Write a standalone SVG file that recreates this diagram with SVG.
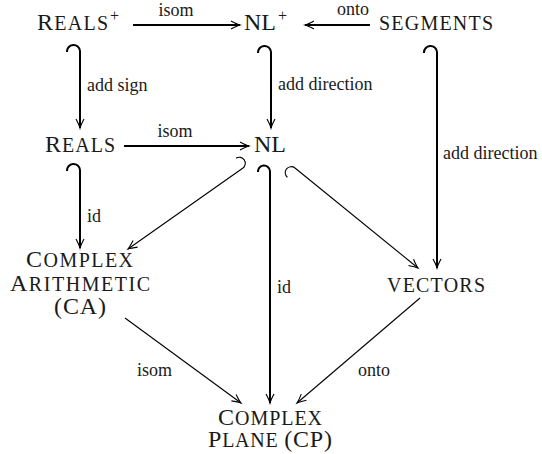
<svg xmlns="http://www.w3.org/2000/svg" width="542" height="454" viewBox="0 0 542 454" font-family="Liberation Serif, Times New Roman, serif">
<style>
  .n { fill: #1a1a1a; }
  .big { font-size: 24px; }
  .sc { font-size: 20px; }
  .sup { font-size: 16px; }
  .lbl { font-size: 18px; fill: #1a1a1a; }
  .thick { fill: none; stroke: #000; stroke-width: 2; }
  .thin { fill: none; stroke: #000; stroke-width: 1.1; }
</style>
<defs>
  <marker id="ah" markerWidth="12" markerHeight="10" viewBox="-10 -5 12 10" refX="0" refY="0" orient="auto" markerUnits="userSpaceOnUse" overflow="visible">
    <path d="M-9,-4 Q-3,-0.8 0,0 Q-3,0.8 -9,4" fill="none" stroke="#000" stroke-width="1.1"/>
  </marker>
</defs>

<g id="connectors">
  <path class="thick" d="M133,25 L240,25" marker-end="url(#ah)"/>
  <text class="lbl" x="176" y="16" text-anchor="middle">isom</text>
  <path class="thick" d="M370,25 L305,25" marker-end="url(#ah)"/>
  <text class="lbl" x="353" y="15" text-anchor="middle">onto</text>
  <path class="thick" d="M67,52 A6.5,6.5 0 0 1 80,51 L80,128" marker-end="url(#ah)"/>
  <text class="lbl" x="87" y="91">add sign</text>
  <path class="thick" d="M258,53 A6.5,6.5 0 0 1 271,52 L271,128" marker-end="url(#ah)"/>
  <text class="lbl" x="278" y="90">add direction</text>
  <path class="thick" d="M424,53 A6.5,6.5 0 0 1 437,52 L437,268" marker-end="url(#ah)"/>
  <text class="lbl" x="443" y="159">add direction</text>
  <path class="thick" d="M124,146 L249,146" marker-end="url(#ah)"/>
  <text class="lbl" x="175" y="137" text-anchor="middle">isom</text>
  <path class="thick" d="M67,171 A6.5,6.5 0 0 1 80,170 L80,248" marker-end="url(#ah)"/>
  <text class="lbl" x="87" y="222">id</text>
  <path class="thin" d="M236.1,158.2 A6,6 0 0 1 243,168 L128,249" marker-end="url(#ah)"/>
  <path class="thick" d="M258,172 A6,6 0 0 1 270,171 L270,403" marker-end="url(#ah)"/>
  <text class="lbl" x="277" y="293">id</text>
  <path class="thin" d="M287.4,177.3 A6,6 0 0 1 295,168 L418,268" marker-end="url(#ah)"/>
  <path class="thin" d="M125,318 L241,403" marker-end="url(#ah)"/>
  <text class="lbl" x="137" y="376">isom</text>
  <path class="thin" d="M420,298 L297,403" marker-end="url(#ah)"/>
  <text class="lbl" x="358" y="376">onto</text>
</g>

<g id="node-reals-plus">
  <text class="n" x="37" y="30" textLength="71" lengthAdjust="spacing"><tspan class="big">R</tspan><tspan class="sc">EALS</tspan></text>
  <text class="n sup" x="110" y="21">+</text>
</g>
<g id="node-nl-plus">
  <text class="n big" x="244" y="30">NL</text>
  <text class="n sup" x="278" y="21">+</text>
</g>
<g id="node-segments">
  <text class="n sc" x="379" y="30" textLength="114" lengthAdjust="spacing">SEGMENTS</text>
</g>
<g id="node-reals">
  <text class="n" x="45" y="152" textLength="70" lengthAdjust="spacing"><tspan class="big">R</tspan><tspan class="sc">EALS</tspan></text>
</g>
<g id="node-nl">
  <text class="n big" x="270" y="152" text-anchor="middle">NL</text>
</g>
<g id="node-ca">
  <text class="n" x="26" y="267" textLength="107" lengthAdjust="spacing"><tspan class="big">C</tspan><tspan class="sc">OMPLEX</tspan></text>
  <text class="n" x="10" y="291" textLength="140" lengthAdjust="spacing"><tspan class="big">A</tspan><tspan class="sc">RITHMETIC</tspan></text>
  <text class="n big" x="54" y="314" textLength="52" lengthAdjust="spacing">(CA)</text>
</g>
<g id="node-vectors">
  <text class="n sc" x="387" y="292" textLength="98" lengthAdjust="spacing">VECTORS</text>
</g>
<g id="node-cp">
  <text class="n" x="218" y="425" textLength="104" lengthAdjust="spacing"><tspan class="big">C</tspan><tspan class="sc">OMPLEX</tspan></text>
  <text class="n" x="208" y="447" textLength="124" lengthAdjust="spacing"><tspan class="big">P</tspan><tspan class="sc">LANE </tspan><tspan class="big">(CP)</tspan></text>
</g>
</svg>
